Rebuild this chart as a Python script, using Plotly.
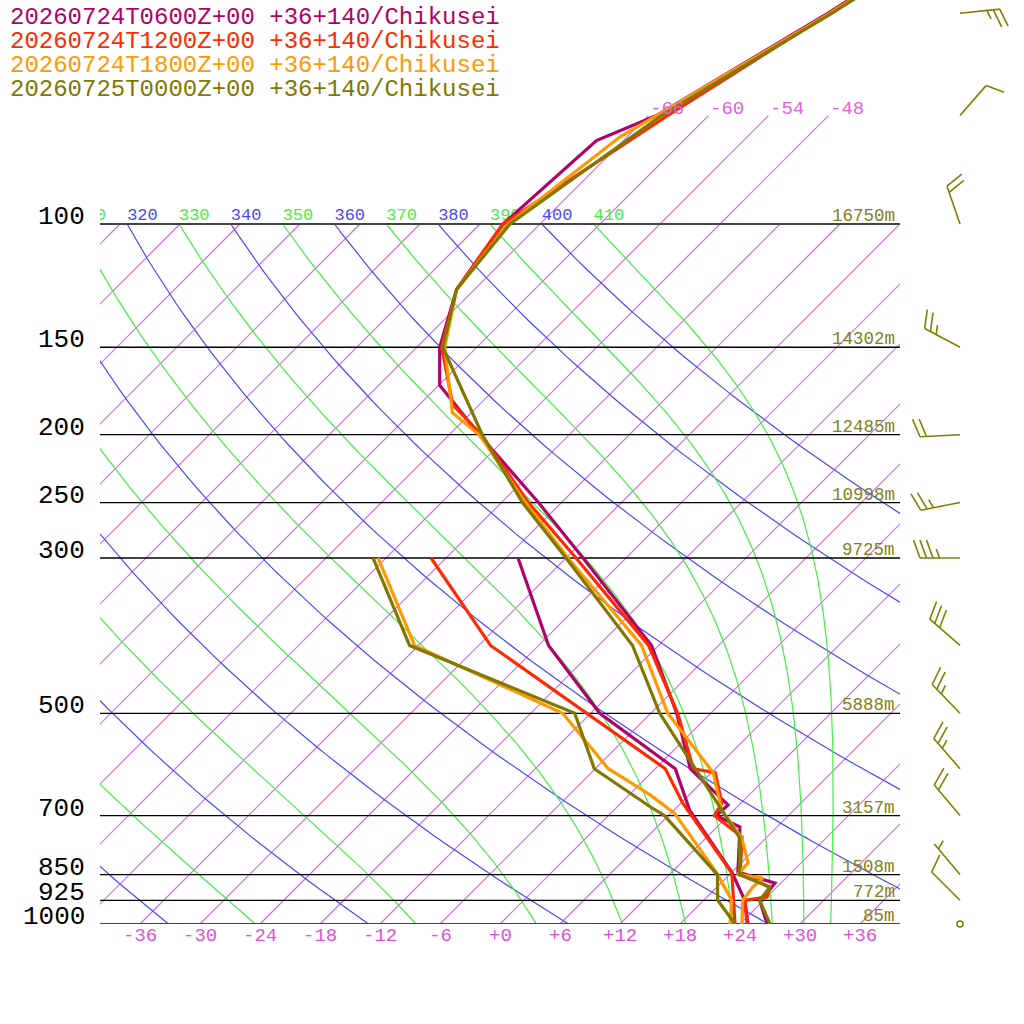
import numpy as np
import plotly.graph_objects as go

# --- sounding values (hPa, degC) ---
times = ["20260724T0600Z+00", "20260724T1200Z+00", "20260724T1800Z+00", "20260725T0000Z+00"]
place = "+36+140/Chikusei"
colors = ["#b0006a", "#ff2a00", "#ff9900", "#807800"]

p_t_06 = [47, 50, 70, 76, 100, 124, 150, 170, 200, 250, 300, 400, 500, 600, 676, 700, 727, 843, 874, 903, 925, 980, 1000]
t_06 = [-57.2, -58.3, -65.2, -68.7, -69.7, -67.8, -63.7, -59.9, -51.0, -38.3, -28.3, -12.7, -3.4, 3.5, 10.9, 10.8, 14.3, 18.6, 23.4, 23.6, 23.6, 25.9, 26.8]
p_d_06 = [300, 400, 500, 600, 688, 845, 925, 1000]
d_06 = [-34.8, -23.0, -11.1, 2.0, 7.6, 18.1, 22.1, 24.8]

p_t_12 = [47, 50, 70, 100, 124, 150, 181, 200, 250, 300, 400, 500, 600, 608, 672, 700, 751, 845, 886, 915, 925, 1000]
t_12 = [-57.0, -58.1, -64.1, -69.7, -67.8, -63.5, -56.7, -50.8, -39.3, -29.0, -13.0, -3.3, 3.8, 6.4, 10.1, 10.6, 15.5, 18.9, 23.3, 24.0, 22.1, 24.7]
p_d_12 = [300, 400, 600, 672, 846, 1000]
d_12 = [-43.5, -28.8, 1.0, 6.2, 18.1, 23.5]

p_t_18 = [47, 50, 70, 75, 100, 124, 150, 186, 200, 250, 300, 400, 500, 608, 688, 754, 818, 850, 860, 886, 925, 1000]
t_18 = [-57.0, -58.1, -65.2, -66.7, -69.2, -67.8, -63.2, -55.9, -51.0, -39.6, -29.8, -13.7, -4.3, 6.2, 10.8, 15.6, 18.7, 18.8, 21.7, 21.6, 21.9, 24.2]
p_d_18 = [300, 400, 500, 600, 623, 654, 695, 846, 925, 1000]
d_18 = [-48.8, -36.4, -14.8, -4.7, -1.7, 2.1, 6.4, 16.6, 20.8, 23.0]

p_t_00 = [47, 50, 70, 100, 124, 150, 200, 250, 300, 400, 500, 600, 688, 754, 850, 886, 925, 1000]
t_00 = [-56.8, -57.9, -64.7, -69.0, -67.8, -63.4, -50.7, -39.9, -30.0, -14.6, -5.1, 4.0, 10.8, 15.4, 19.0, 23.3, 23.6, 27.0]
p_d_00 = [300, 400, 500, 600, 680, 700, 850, 925, 1000]
d_00 = [-49.3, -36.9, -13.6, -6.1, 3.3, 5.6, 16.8, 19.4, 23.5]

# wind (last run) and heights
wind_p = [50, 70, 100, 150, 200, 250, 300, 400, 500, 600, 700, 850, 925, 1000]
wind_dir = [84, 41, 341, 298, 267, 259, 270, 311, 316, 319, 320, 320, 315, 0]
wind_kt = [25, 10, 20, 25, 20, 25, 35, 30, 25, 25, 20, 5, 10, 0]

levels = [100, 150, 200, 250, 300, 500, 700, 850, 925, 1000]
heights = ["16750m", "14302m", "12485m", "10998m", "9725m", "5888m", "3157m", "1508m", "772m", "85m"]

temp_ticks = list(range(-36, 37, 6))
isotherms = list(range(-108, 37, 6))
iso_top = [-66, -60, -54, -48]
dry_thetas = list(range(200, 401, 20))
moist_thetas = list(range(210, 411, 20))
label_thetas = list(range(310, 411, 10))

SKEW = 70.0  # x units per decade of pressure
MONO = "Liberation Mono"
ISO_COLOR = "#e060f0"
DRY_COLOR = "#4848ff"
MOIST_COLOR = "#44ee44"


def skew(t, p):
    return np.asarray(t, float) + SKEW * np.log10(1000.0 / np.asarray(p, float))


def moist_line(theta):
    Rd, cp, Lv, eps = 287.04, 1005.7, 2.501e6, 0.622

    def f(lp, T):
        p = np.exp(lp)
        es = 6.112 * np.exp(17.67 * (T - 273.15) / (T - 29.65))
        rs = eps * es / (p - es)
        return (Rd * T + Lv * rs) / (cp + Lv ** 2 * rs * eps / (Rd * T ** 2))

    lnp = np.linspace(np.log(100.0), np.log(1000.0), 240)
    h = lnp[1] - lnp[0]
    T = theta * 0.1 ** (Rd / cp)
    out = [T]
    for lp in lnp[:-1]:
        k1 = f(lp, T)
        k2 = f(lp + h / 2, T + h / 2 * k1)
        k3 = f(lp + h / 2, T + h / 2 * k2)
        k4 = f(lp + h, T + h * k3)
        T = T + h / 6 * (k1 + 2 * k2 + 2 * k3 + k4)
        out.append(T)
    return np.exp(lnp), np.array(out) - 273.15


fig = go.Figure()

# background on the clipped subplot (x2, y2)
iso_x, iso_y = [], []
for t in isotherms:
    ptop = 70 if t in iso_top else 100
    iso_x += [float(v) for v in skew([t, t], [1000, ptop])] + [None]
    iso_y += [1000, ptop, None]
fig.add_trace(go.Scatter(x=iso_x, y=iso_y, mode="lines",
                         line=dict(color=ISO_COLOR, width=1.2), xaxis="x2", yaxis="y2", hoverinfo="skip"))

pp = np.logspace(3, 2, 80)
for th in dry_thetas:
    tt = th * (pp / 1000.0) ** 0.2854 - 273.15
    fig.add_trace(go.Scatter(x=[float(v) for v in skew(tt, pp)], y=[float(v) for v in pp], mode="lines",
                             line=dict(color=DRY_COLOR, width=1.2), xaxis="x2", yaxis="y2", hoverinfo="skip"))
for th in moist_thetas:
    mp, mt = moist_line(th)
    fig.add_trace(go.Scatter(x=[float(v) for v in skew(mt, mp)], y=[float(v) for v in mp], mode="lines",
                             line=dict(color=MOIST_COLOR, width=1.2), xaxis="x2", yaxis="y2", hoverinfo="skip"))

for p in levels:
    fig.add_trace(go.Scatter(x=[-40, 40], y=[p, p], mode="lines",
                             line=dict(color="#444444" if p in (100, 1000) else "black",
                                       width=2 if p in (100, 1000) else 1.3),
                             xaxis="x2", yaxis="y2", hoverinfo="skip"))

# adiabat labels on the 100 hPa line
lab_x = skew([th * 0.1 ** 0.2854 - 273.15 for th in label_thetas], [100] * len(label_thetas))
fig.add_trace(go.Scatter(
    x=[float(v) for v in lab_x], y=[100] * len(label_thetas), mode="text",
    text=[str(th) for th in label_thetas], textposition="top right",
    textfont=dict(family=MONO, size=17,
                  color=[MOIST_COLOR if (th // 10) % 2 else DRY_COLOR for th in label_thetas]),
    xaxis="x2", yaxis="y2", hoverinfo="skip", cliponaxis=True))

# soundings
series = [(p_t_06, t_06, p_d_06, d_06), (p_t_12, t_12, p_d_12, d_12),
          (p_t_18, t_18, p_d_18, d_18), (p_t_00, t_00, p_d_00, d_00)]
for (pt, tt, pd_, dd), c in zip(series, colors):
    fig.add_trace(go.Scatter(x=[float(v) for v in skew(dd, pd_)], y=pd_, mode="lines",
                             line=dict(color=c, width=3.2), xaxis="x2", yaxis="y2", hoverinfo="skip"))
    fig.add_trace(go.Scatter(x=[float(v) for v in skew(tt, pt)], y=pt, mode="lines",
                             line=dict(color=c, width=3.2), xaxis="x2", yaxis="y2", hoverinfo="skip"))

# wind barbs (subplot x, y), lengths in pixels: 10 px per x unit, 700 px per decade
BX = 46.0
bx, by = [], []


def add_seg(p0, ax, ay, bx_, by_):
    bx.extend([BX + ax / 10, BX + bx_ / 10, None])
    by.extend([p0 * 10 ** (ay / 700), p0 * 10 ** (by_ / 700), None])


calm_p = []
for p, d, s in zip(wind_p, wind_dir, wind_kt):
    if s < 3:
        calm_p.append(p)
        continue
    r = np.radians(d)
    ux, uy = np.sin(r), -np.cos(r)
    r2 = np.radians(d + 70)
    vx, vy = np.sin(r2), -np.cos(r2)
    tx, ty = 40 * ux, 40 * uy
    add_seg(p, 0, 0, tx, ty)
    full, half = s // 10, (s % 10) >= 5
    pos = 0.0
    for i in range(full):
        sx, sy = tx - pos * ux, ty - pos * uy
        add_seg(p, sx, sy, sx + 19 * vx, sy + 19 * vy)
        pos += 6.5
    if half:
        if full == 0:
            pos = 6.5
        sx, sy = tx - pos * ux, ty - pos * uy
        add_seg(p, sx, sy, sx + 9.5 * vx, sy + 9.5 * vy)

fig.add_trace(go.Scatter(x=[None if v is None else float(v) for v in bx],
                         y=[None if v is None else float(v) for v in by], mode="lines",
                         line=dict(color="#7f7f00", width=1.6), hoverinfo="skip", cliponaxis=False))
fig.add_trace(go.Scatter(x=[BX] * len(calm_p), y=calm_p, mode="markers",
                         marker=dict(symbol="circle-open", size=6, color="#7f7f00", line=dict(width=1.6)),
                         hoverinfo="skip"))

ann = []
# pressure labels left, heights right
for p, h in zip(levels, heights):
    ann.append(dict(x=-41.3, y=np.log10(p), xref="x", yref="y", text=str(p), showarrow=False,
                    xanchor="right", yanchor="bottom", yshift=-10,
                    font=dict(family=MONO, size=26, color="black")))
    ann.append(dict(x=39.7, y=np.log10(p), xref="x", yref="y", text=h, showarrow=False,
                    xanchor="right", yanchor="bottom", yshift=-4,
                    font=dict(family=MONO, size=17.5, color="#808020")))
# temperature ticks under 1000 hPa
for t in temp_ticks:
    ann.append(dict(x=t, y=np.log10(1000) + 12 / 700, xref="x", yref="y", text=f"{t:+d}",
                    showarrow=False, xanchor="center", yanchor="middle",
                    font=dict(family=MONO, size=19, color="#e050e0")))
# isotherm labels at 70 hPa
for t in iso_top:
    ann.append(dict(x=float(skew(t, 70)), y=np.log10(70), xref="x", yref="y", text=str(t),
                    showarrow=False, xanchor="left", yanchor="bottom", yshift=-6,
                    font=dict(family=MONO, size=19, color="#e060e0")))
# run titles
for i, (tm, c) in enumerate(zip(times, colors)):
    ann.append(dict(x=8 / 1024, y=1 - (17 + 24 * i) / 1024, xref="paper", yref="paper",
                    text=f"{tm} {place}", showarrow=False, xanchor="left", yanchor="middle",
                    font=dict(family=MONO, size=24, color=c)))

fig.update_layout(
    width=1024, height=1024, margin=dict(l=0, r=0, t=0, b=0),
    paper_bgcolor="white", plot_bgcolor="white", showlegend=False,
    xaxis=dict(domain=[0, 1], range=[-50, 52.4], visible=False, fixedrange=True),
    yaxis=dict(domain=[0, 1], type="log", range=[3 + 100 / 700, 3 - 924 / 700], visible=False, fixedrange=True),
    xaxis2=dict(domain=[100 / 1024, 900 / 1024], range=[-40, 40], anchor="y2", visible=False, fixedrange=True),
    yaxis2=dict(domain=[100 / 1024, 1], type="log", range=[3, 3 - 924 / 700], anchor="x2",
                visible=False, fixedrange=True),
    annotations=ann,
)

fig.write_html("out.html", config={"displayModeBar": False},
               post_script="document.body.style.margin='0';document.body.style.overflow='hidden';")
